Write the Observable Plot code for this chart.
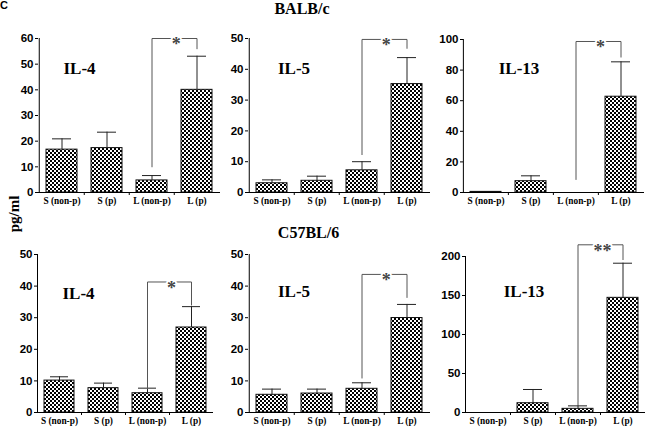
<!DOCTYPE html>
<html><head><meta charset="utf-8">
<script src="https://cdn.jsdelivr.net/npm/d3@7"></script>
<script src="https://cdn.jsdelivr.net/npm/@observablehq/plot@0.6"></script>
<style>
body{margin:0;background:#fff;}
#chart{position:relative;width:646px;height:428px;overflow:hidden;font-family:"Liberation Serif","Times New Roman",serif;}
.lbl{position:absolute;white-space:nowrap;line-height:1;font-weight:bold;color:#000;}
.panel{position:absolute;}
</style></head><body>
<svg width="0" height="0" style="position:absolute"><defs>
<pattern id="checker" width="4" height="4" patternUnits="userSpaceOnUse">
<rect width="4" height="4" fill="#fff"/><rect width="2" height="2" fill="#000"/><rect x="2" y="2" width="2" height="2" fill="#000"/>
</pattern></defs></svg>
<div id="chart">
 <div class="lbl" style="left:0px;top:0px;font-family:'Liberation Sans',Arial,sans-serif;font-size:11px">C</div>
 <div class="lbl" style="left:302px;top:0.6px;font-size:16px;transform:translateX(-50%)">BALB/c</div>
 <div class="lbl" style="left:308.5px;top:224.6px;font-size:16px;transform:translateX(-50%)">C57BL/6</div>
 <div class="lbl" style="left:13.5px;top:214px;font-size:15px;transform:translate(-50%,-50%) rotate(-90deg)">pg/ml</div>
</div>
<script>
const categories = ["S (non-p)", "S (p)", "L (non-p)", "L (p)"];
const panelTitles = ["IL-4", "IL-5", "IL-13", "IL-4", "IL-5", "IL-13"];

// BALB/c
const balbIL4 = [16.7, 17.3, 4.7, 40.0];
const balbIL4Err = [4.2, 6.2, 1.9, 13.1];
const balbIL5 = [3.0, 3.8, 7.2, 35.2];
const balbIL5Err = [1.1, 1.5, 2.8, 8.6];
const balbIL13 = [0.4, 7.4, 0, 62.6];
const balbIL13Err = [0, 3.5, 0, 22.8];
// C57BL/6
const c57IL4 = [10.1, 7.7, 6.1, 26.9];
const c57IL4Err = [1.2, 1.6, 1.6, 6.6];
const c57IL5 = [5.6, 6.0, 7.5, 29.9];
const c57IL5Err = [1.8, 1.4, 1.9, 4.3];
const c57IL13 = [0, 11.9, 4.7, 147];
const c57IL13Err = [0, 17.6, 3.8, 44.4];

// y-axis maxima and tick steps
const yMaxes = [60, 50, 100, 50, 50, 200];
const yTickSteps = [10, 10, 20, 10, 10, 50];

// significance brackets (L (non-p) vs L (p))
const bracketTop = [60, 49.7, 98.7, 41.3, 43.7, 215];
const bracketLeftEnd = [10, 12.3, 8.5, 7.5, 10.9, 9];
const bracketRightEnd = [56, 46.8, 88.5, 34, 36.4, 196];
const stars = ["*", "*", "*", "*", "*", "**"];

const seriesMeans = [balbIL4, balbIL5, balbIL13, c57IL4, c57IL5, c57IL13];
const seriesErrs = [balbIL4Err, balbIL5Err, balbIL13Err, c57IL4Err, c57IL5Err, c57IL13Err];

// layout (pixels)
const layout = [
  {left: 0,   top: 22,  width: 222, height: 198, mL: 38, mR: 2, mT: 16, mB: 28, lx: 41,   ly: 23.6},
  {left: 210, top: 22,  width: 222, height: 198, mL: 38, mR: 2, mT: 16, mB: 28, lx: 45.5, ly: 23.6},
  {left: 424, top: 22,  width: 222, height: 198, mL: 39, mR: 2, mT: 17, mB: 28, lx: 55.5, ly: 22.6},
  {left: 0,   top: 238, width: 222, height: 190, mL: 37, mR: 9, mT: 16, mB: 16, lx: 41,   ly: 32.6},
  {left: 210, top: 238, width: 222, height: 190, mL: 38, mR: 2, mT: 16, mB: 16, lx: 45.5, ly: 30.6},
  {left: 424, top: 238, width: 222, height: 190, mL: 41, mR: 1, mT: 18, mB: 16, lx: 58.5, ly: 28.6}
];

const serif = "Liberation Serif, Times New Roman, serif";
const sans = "Liberation Sans, Arial, sans-serif";
const chart = document.getElementById("chart");

for (let k = 0; k < 6; k++) {
  const L = layout[k];
  const data = categories.map((c, i) => ({cat: c, mean: seriesMeans[k][i], err: seriesErrs[k][i]}));
  const withErr = data.filter(d => d.err > 0);
  const step = (L.width - L.mL - L.mR) / 4;
  const bracket = [
    {x: categories[2], y: bracketLeftEnd[k]},
    {x: categories[2], y: bracketTop[k]},
    {x: categories[3], y: bracketTop[k]},
    {x: categories[3], y: bracketRightEnd[k]}
  ];
  const yTicks = d3.range(0, yMaxes[k] + 1e-9, yTickSteps[k]);
  const plot = Plot.plot({
    width: L.width, height: L.height,
    marginLeft: L.mL, marginRight: L.mR, marginTop: L.mT, marginBottom: L.mB,
    style: {background: "none", overflow: "visible"},
    x: {domain: categories, paddingInner: 0.31, paddingOuter: 0.155, label: null},
    y: {domain: [0, yMaxes[k]], label: null},
    marks: [
      Plot.barY(data, {x: "cat", y: "mean", fill: "url(#checker)", stroke: "#111", strokeWidth: 1}),
      Plot.ruleX(withErr, {x: "cat", y1: "mean", y2: d => d.mean + d.err, stroke: "#222"}),
      Plot.tickY(withErr, {x: "cat", y: d => d.mean + d.err, insetLeft: 6, insetRight: 6, stroke: "#222"}),
      Plot.line(bracket, {x: "x", y: "y", stroke: "#555", strokeWidth: 1}),
      Plot.text([{x: categories[3], y: bracketTop[k], s: stars[k]}], {
        x: "x", y: "y", text: "s", dx: -step / 2 + 2, dy: 6,
        fontFamily: serif, fontSize: 18, fontWeight: "bold", fill: "#444",
        stroke: "white", strokeWidth: 4, paintOrder: "stroke"
      }),
      // axis lines
      Plot.ruleY([0], {stroke: "#000"}),
      Plot.ruleX([categories[0]], {y1: 0, y2: yMaxes[k], dx: -step / 2, stroke: "#000"}),
      Plot.axisY({ticks: yTicks, tickSize: 3, tickPadding: 2, label: null,
        fontFamily: sans, fontSize: 11.5, fontWeight: "bold", stroke: "#000"}),
      Plot.axisX({ticks: categories.slice(1), tickSize: 3, tickFormat: () => "", dx: -step / 2, label: null}),
      Plot.axisX({tickSize: 0, tickPadding: 5, label: null,
        fontFamily: serif, fontSize: 9.3, fontWeight: "bold"}),
      Plot.text([panelTitles[k]], {frameAnchor: "top-left", dx: L.lx, dy: L.ly, text: d => d,
        fontFamily: serif, fontSize: 17, fontWeight: "bold", textAnchor: "middle", fill: "#000"})
    ]
  });
  plot.classList.add("panel");
  plot.style.left = L.left + "px";
  plot.style.top = L.top + "px";
  chart.appendChild(plot);
}
</script>
</body></html>
